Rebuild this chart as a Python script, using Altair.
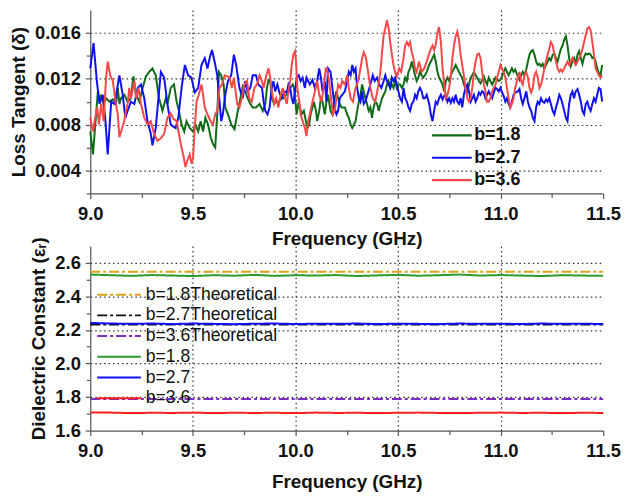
import altair as alt
import pandas as pd

# ---------------- Loss tangent (top panel): (frequency GHz, loss tangent) ----------------
lt_b18 = [(9.000,.0074),(9.013,.0054),(9.037,.0109),(9.045,.0100),(9.053,.0106),(9.065,.0098),(9.077,.0103),(9.094,.0100),(9.110,.0102),(9.126,.0099),(9.134,.0112),(9.142,.0098),(9.150,.0103),(9.166,.0106),(9.182,.0100),(9.198,.0103),(9.210,.0122),(9.223,.0106),(9.239,.0100),(9.255,.0112),(9.271,.0122),(9.287,.0126),(9.303,.0129),(9.319,.0123),(9.335,.0103),(9.352,.0092),(9.368,.0103),(9.376,.0098),(9.392,.0112),(9.408,.0115),(9.421,.0100),(9.432,.0092),(9.445,.0080),(9.458,.0074),(9.469,.0083),(9.485,.0077),(9.501,.0074),(9.513,.0080),(9.526,.0074),(9.538,.0083),(9.550,.0074),(9.561,.0086),(9.574,.0080),(9.587,.0069),(9.598,.0063),(9.609,.0060),(9.619,.0089),(9.627,.0126),(9.638,.0123),(9.650,.0115),(9.658,.0095),(9.671,.0089),(9.687,.0080),(9.703,.0076),(9.719,.0092),(9.732,.0103),(9.743,.0113),(9.755,.0109),(9.767,.0103),(9.780,.0098),(9.792,.0095),(9.808,.0095),(9.825,.0098),(9.841,.0092),(9.853,.0098),(9.861,.0112),(9.869,.0119),(9.877,.0118),(9.885,.0103),(9.896,.0098),(9.906,.0100),(9.917,.0099),(9.929,.0103),(9.941,.0103),(9.954,.0106),(9.966,.0108),(9.974,.0112),(9.987,.0115),(9.993,.0112),(10.000,.0100),(10.006,.0089),(10.014,.0098),(10.022,.0095),(10.030,.0089),(10.041,.0092),(10.051,.0083),(10.058,.0077),(10.067,.0080),(10.074,.0089),(10.083,.0095),(10.090,.0100),(10.100,.0092),(10.106,.0083),(10.116,.0092),(10.124,.0103),(10.132,.0100),(10.143,.0089),(10.151,.0100),(10.159,.0106),(10.171,.0092),(10.180,.0089),(10.191,.0103),(10.200,.0109),(10.212,.0100),(10.224,.0095),(10.241,.0095),(10.252,.0089),(10.260,.0086),(10.269,.0080),(10.277,.0077),(10.285,.0080),(10.293,.0083),(10.301,.0092),(10.309,.0100),(10.317,.0106),(10.325,.0115),(10.333,.0109),(10.341,.0103),(10.349,.0098),(10.357,.0092),(10.365,.0095),(10.373,.0086),(10.381,.0095),(10.389,.0100),(10.398,.0098),(10.406,.0092),(10.414,.0098),(10.422,.0103),(10.430,.0106),(10.438,.0109),(10.446,.0115),(10.454,.0118),(10.462,.0112),(10.470,.0115),(10.478,.0112),(10.486,.0118),(10.494,.0112),(10.502,.0115),(10.510,.0115),(10.519,.0112),(10.527,.0115),(10.535,.0121),(10.543,.0118),(10.551,.0126),(10.559,.0129),(10.567,.0135),(10.575,.0129),(10.583,.0123),(10.591,.0118),(10.599,.0121),(10.607,.0126),(10.615,.0123),(10.623,.0121),(10.631,.0123),(10.640,.0126),(10.652,.0132),(10.660,.0135),(10.668,.0138),(10.676,.0141),(10.684,.0135),(10.692,.0126),(10.700,.0121),(10.709,.0118),(10.717,.0115),(10.725,.0109),(10.733,.0118),(10.741,.0121),(10.749,.0118),(10.757,.0123),(10.765,.0126),(10.773,.0129),(10.781,.0132),(10.789,.0129),(10.797,.0126),(10.805,.0123),(10.813,.0121),(10.821,.0115),(10.829,.0112),(10.838,.0109),(10.846,.0115),(10.854,.0121),(10.862,.0123),(10.870,.0126),(10.878,.0123),(10.886,.0121),(10.894,.0118),(10.902,.0116),(10.910,.0119),(10.918,.0122),(10.926,.0118),(10.934,.0115),(10.942,.0121),(10.950,.0118),(10.959,.0115),(10.967,.0118),(10.975,.0121),(10.983,.0119),(10.991,.0118),(10.999,.0119),(11.007,.0122),(11.015,.0126),(11.023,.0129),(11.031,.0126),(11.039,.0123),(11.047,.0126),(11.055,.0129),(11.063,.0126),(11.071,.0128),(11.084,.0122),(11.092,.0119),(11.100,.0123),(11.108,.0126),(11.116,.0123),(11.125,.0128),(11.133,.0135),(11.141,.0141),(11.149,.0144),(11.157,.0145),(11.165,.0141),(11.173,.0135),(11.181,.0132),(11.189,.0133),(11.197,.0131),(11.205,.0133),(11.213,.0129),(11.221,.0132),(11.229,.0135),(11.237,.0138),(11.245,.0136),(11.254,.0141),(11.262,.0142),(11.270,.0138),(11.278,.0135),(11.286,.0141),(11.294,.0146),(11.302,.0149),(11.310,.0154),(11.318,.0157),(11.326,.0149),(11.334,.0138),(11.342,.0131),(11.350,.0135),(11.358,.0138),(11.366,.0133),(11.375,.0141),(11.383,.0144),(11.391,.0138),(11.399,.0133),(11.407,.0139),(11.415,.0142),(11.423,.0141),(11.431,.0142),(11.439,.0141),(11.447,.0138),(11.455,.0139),(11.463,.0135),(11.471,.0129),(11.479,.0125),(11.487,.0123),(11.495,.0132)]

lt_b27 = [(9.000,.0129),(9.016,.0151),(9.032,.0118),(9.045,.0098),(9.061,.0106),(9.074,.0083),(9.085,.0054),(9.102,.0100),(9.118,.0098),(9.142,.0123),(9.158,.0106),(9.171,.0086),(9.182,.0092),(9.198,.0100),(9.215,.0098),(9.231,.0112),(9.247,.0115),(9.263,.0103),(9.279,.0083),(9.295,.0072),(9.303,.0062),(9.319,.0077),(9.344,.0126),(9.360,.0121),(9.376,.0098),(9.392,.0080),(9.416,.0077),(9.429,.0086),(9.445,.0112),(9.461,.0132),(9.477,.0123),(9.493,.0121),(9.509,.0108),(9.526,.0112),(9.542,.0132),(9.558,.0138),(9.571,.0129),(9.582,.0138),(9.593,.0145),(9.606,.0135),(9.619,.0123),(9.630,.0100),(9.638,.0083),(9.646,.0089),(9.658,.0106),(9.671,.0118),(9.687,.0123),(9.700,.0141),(9.711,.0132),(9.727,.0112),(9.743,.0103),(9.755,.0118),(9.767,.0109),(9.780,.0112),(9.792,.0123),(9.808,.0123),(9.819,.0115),(9.837,.0112),(9.845,.0100),(9.853,.0092),(9.864,.0089),(9.874,.0095),(9.885,.0112),(9.893,.0118),(9.901,.0109),(9.912,.0115),(9.922,.0108),(9.933,.0103),(9.945,.0109),(9.958,.0108),(9.966,.0115),(9.974,.0112),(9.982,.0103),(9.990,.0098),(10.000,.0112),(10.006,.0121),(10.016,.0123),(10.025,.0118),(10.035,.0121),(10.046,.0112),(10.054,.0121),(10.062,.0118),(10.070,.0115),(10.083,.0119),(10.095,.0112),(10.106,.0118),(10.116,.0129),(10.124,.0121),(10.132,.0109),(10.143,.0118),(10.151,.0100),(10.159,.0129),(10.171,.0126),(10.180,.0112),(10.191,.0095),(10.200,.0089),(10.208,.0092),(10.216,.0103),(10.228,.0106),(10.241,.0109),(10.252,.0118),(10.260,.0126),(10.269,.0123),(10.277,.0132),(10.285,.0126),(10.293,.0129),(10.301,.0112),(10.309,.0103),(10.317,.0100),(10.325,.0109),(10.333,.0098),(10.341,.0100),(10.354,.0108),(10.365,.0115),(10.377,.0123),(10.386,.0118),(10.398,.0121),(10.409,.0115),(10.419,.0112),(10.430,.0118),(10.438,.0123),(10.446,.0118),(10.454,.0115),(10.462,.0112),(10.470,.0121),(10.478,.0118),(10.486,.0121),(10.494,.0115),(10.502,.0109),(10.510,.0103),(10.519,.0100),(10.527,.0112),(10.535,.0103),(10.543,.0100),(10.551,.0095),(10.559,.0092),(10.567,.0098),(10.575,.0100),(10.583,.0106),(10.591,.0103),(10.599,.0109),(10.607,.0112),(10.615,.0109),(10.623,.0103),(10.631,.0103),(10.640,.0106),(10.652,.0098),(10.660,.0089),(10.668,.0083),(10.676,.0092),(10.684,.0100),(10.692,.0098),(10.700,.0103),(10.709,.0106),(10.717,.0102),(10.725,.0105),(10.733,.0106),(10.741,.0100),(10.749,.0103),(10.757,.0099),(10.765,.0103),(10.773,.0100),(10.781,.0106),(10.789,.0100),(10.797,.0098),(10.805,.0103),(10.813,.0095),(10.821,.0106),(10.829,.0112),(10.838,.0115),(10.846,.0109),(10.854,.0100),(10.862,.0103),(10.870,.0106),(10.878,.0100),(10.886,.0103),(10.894,.0108),(10.902,.0106),(10.910,.0109),(10.918,.0108),(10.926,.0103),(10.934,.0106),(10.942,.0109),(10.950,.0106),(10.959,.0103),(10.967,.0108),(10.975,.0112),(10.983,.0111),(10.991,.0109),(10.999,.0112),(11.007,.0108),(11.015,.0105),(11.023,.0100),(11.031,.0103),(11.039,.0098),(11.047,.0095),(11.055,.0100),(11.063,.0106),(11.071,.0108),(11.084,.0109),(11.092,.0111),(11.100,.0103),(11.108,.0098),(11.116,.0103),(11.125,.0109),(11.133,.0100),(11.141,.0095),(11.149,.0092),(11.157,.0086),(11.165,.0083),(11.173,.0095),(11.181,.0100),(11.189,.0098),(11.197,.0103),(11.205,.0100),(11.213,.0099),(11.221,.0102),(11.229,.0100),(11.237,.0103),(11.245,.0098),(11.254,.0092),(11.262,.0089),(11.270,.0095),(11.278,.0100),(11.286,.0106),(11.294,.0103),(11.302,.0098),(11.310,.0092),(11.318,.0086),(11.326,.0083),(11.334,.0098),(11.342,.0106),(11.350,.0109),(11.358,.0103),(11.366,.0109),(11.375,.0111),(11.383,.0106),(11.391,.0100),(11.399,.0092),(11.407,.0089),(11.415,.0098),(11.423,.0100),(11.431,.0095),(11.439,.0092),(11.447,.0098),(11.455,.0103),(11.463,.0100),(11.471,.0106),(11.479,.0112),(11.487,.0111),(11.495,.0100)]

lt_b36 = [(9.000,.0086),(9.013,.0074),(9.024,.0086),(9.034,.0095),(9.042,.0080),(9.053,.0098),(9.065,.0083),(9.077,.0121),(9.085,.0135),(9.097,.0123),(9.110,.0118),(9.123,.0100),(9.134,.0089),(9.142,.0069),(9.155,.0077),(9.166,.0083),(9.174,.0092),(9.182,.0098),(9.190,.0112),(9.198,.0103),(9.215,.0118),(9.223,.0103),(9.235,.0112),(9.247,.0098),(9.263,.0086),(9.279,.0080),(9.295,.0083),(9.311,.0072),(9.327,.0066),(9.344,.0068),(9.360,.0072),(9.376,.0086),(9.392,.0090),(9.405,.0085),(9.421,.0083),(9.432,.0072),(9.445,.0060),(9.456,.0051),(9.464,.0043),(9.474,.0049),(9.485,.0054),(9.493,.0046),(9.501,.0051),(9.509,.0077),(9.518,.0100),(9.529,.0106),(9.542,.0115),(9.550,.0106),(9.558,.0095),(9.571,.0089),(9.587,.0083),(9.598,.0080),(9.609,.0089),(9.619,.0092),(9.630,.0112),(9.642,.0115),(9.655,.0123),(9.668,.0122),(9.679,.0121),(9.690,.0112),(9.700,.0121),(9.708,.0109),(9.716,.0098),(9.727,.0095),(9.738,.0103),(9.751,.0115),(9.764,.0118),(9.775,.0103),(9.787,.0100),(9.800,.0112),(9.813,.0115),(9.825,.0123),(9.837,.0118),(9.845,.0112),(9.858,.0123),(9.869,.0129),(9.877,.0121),(9.885,.0109),(9.896,.0098),(9.906,.0103),(9.917,.0095),(9.925,.0103),(9.938,.0112),(9.950,.0103),(9.958,.0098),(9.966,.0109),(9.974,.0118),(9.982,.0132),(9.990,.0141),(9.998,.0144),(10.003,.0135),(10.009,.0112),(10.019,.0100),(10.025,.0089),(10.035,.0083),(10.046,.0077),(10.054,.0070),(10.062,.0083),(10.070,.0089),(10.083,.0100),(10.095,.0109),(10.106,.0118),(10.116,.0106),(10.127,.0100),(10.135,.0109),(10.148,.0129),(10.154,.0129),(10.164,.0118),(10.175,.0100),(10.183,.0089),(10.191,.0092),(10.200,.0103),(10.208,.0115),(10.219,.0112),(10.228,.0118),(10.241,.0115),(10.252,.0123),(10.260,.0112),(10.269,.0103),(10.280,.0100),(10.293,.0112),(10.306,.0118),(10.317,.0129),(10.325,.0138),(10.333,.0143),(10.344,.0138),(10.354,.0126),(10.365,.0112),(10.377,.0103),(10.389,.0100),(10.402,.0112),(10.414,.0126),(10.422,.0143),(10.430,.0158),(10.438,.0164),(10.446,.0171),(10.454,.0164),(10.462,.0152),(10.470,.0141),(10.478,.0132),(10.486,.0126),(10.494,.0122),(10.506,.0129),(10.515,.0126),(10.527,.0138),(10.535,.0149),(10.543,.0152),(10.551,.0149),(10.559,.0152),(10.567,.0143),(10.575,.0138),(10.583,.0129),(10.591,.0126),(10.602,.0135),(10.615,.0126),(10.628,.0129),(10.640,.0135),(10.650,.0141),(10.660,.0146),(10.668,.0149),(10.676,.0145),(10.684,.0150),(10.692,.0160),(10.700,.0165),(10.709,.0152),(10.717,.0129),(10.725,.0115),(10.733,.0103),(10.741,.0106),(10.749,.0112),(10.757,.0121),(10.765,.0138),(10.773,.0149),(10.781,.0157),(10.789,.0161),(10.797,.0154),(10.805,.0141),(10.813,.0132),(10.821,.0123),(10.829,.0112),(10.838,.0103),(10.846,.0100),(10.854,.0103),(10.862,.0112),(10.870,.0126),(10.878,.0135),(10.886,.0141),(10.894,.0142),(10.902,.0138),(10.910,.0126),(10.918,.0115),(10.926,.0109),(10.934,.0100),(10.942,.0100),(10.950,.0103),(10.959,.0109),(10.967,.0112),(10.975,.0115),(10.983,.0121),(10.991,.0126),(10.999,.0132),(11.007,.0129),(11.015,.0126),(11.023,.0121),(11.031,.0112),(11.039,.0103),(11.047,.0095),(11.055,.0098),(11.063,.0103),(11.071,.0112),(11.084,.0121),(11.092,.0126),(11.100,.0118),(11.108,.0115),(11.116,.0123),(11.125,.0126),(11.133,.0121),(11.141,.0112),(11.149,.0108),(11.157,.0112),(11.165,.0123),(11.173,.0126),(11.181,.0121),(11.189,.0112),(11.197,.0115),(11.205,.0121),(11.213,.0129),(11.221,.0135),(11.229,.0141),(11.237,.0146),(11.245,.0152),(11.254,.0149),(11.262,.0141),(11.270,.0135),(11.278,.0129),(11.286,.0126),(11.294,.0128),(11.302,.0126),(11.310,.0129),(11.318,.0132),(11.326,.0135),(11.334,.0132),(11.342,.0135),(11.350,.0138),(11.358,.0135),(11.366,.0132),(11.375,.0135),(11.383,.0138),(11.391,.0141),(11.399,.0146),(11.407,.0152),(11.415,.0158),(11.423,.0164),(11.431,.0165),(11.439,.0162),(11.447,.0152),(11.455,.0141),(11.463,.0129),(11.471,.0126),(11.479,.0123),(11.487,.0121),(11.495,.0123)]

lt_names = ["b=1.8", "b=2.7", "b=3.6"]
lt_colors = ["#0E6B16", "#1010F0", "#F54848"]

# ---------------- Dielectric constant (bottom panel) ----------------
dc_freq = [9.0, 9.1, 9.2, 9.3, 9.4, 9.5, 9.6, 9.7, 9.8, 9.9, 10.0, 10.1, 10.2,
           10.3, 10.4, 10.5, 10.6, 10.7, 10.8, 10.9, 11.0, 11.1, 11.2, 11.3, 11.4, 11.5]
dc_b18 = [2.530, 2.526, 2.522, 2.527, 2.524, 2.521, 2.526, 2.523, 2.528, 2.522, 2.526, 2.524, 2.527,
          2.521, 2.525, 2.528, 2.523, 2.526, 2.530, 2.524, 2.527, 2.524, 2.521, 2.526, 2.524, 2.522]
dc_b27 = [2.242, 2.238, 2.236, 2.238, 2.235, 2.238, 2.236, 2.234, 2.237, 2.238, 2.235, 2.237, 2.236,
          2.238, 2.235, 2.237, 2.236, 2.235, 2.238, 2.236, 2.237, 2.235, 2.238, 2.236, 2.237, 2.235]
dc_b36 = [1.708, 1.707, 1.704, 1.706, 1.705, 1.707, 1.704, 1.706, 1.705, 1.706, 1.704, 1.707, 1.705,
          1.706, 1.704, 1.706, 1.707, 1.705, 1.704, 1.706, 1.707, 1.705, 1.706, 1.704, 1.706, 1.705]
theory_freq = [9.0, 11.5]
theory_values = [2.547, 2.232, 1.788]
theory_names = ["b=1.8Theoretical", "b=2.7Theoretical", "b=3.6Theoretical"]
meas_names = ["b=1.8", "b=2.7", "b=3.6"]
dc_names = theory_names + meas_names
dc_colors = ["#D9A21B", "#111111", "#7D2CC0", "#2A9A2A", "#1010F8", "#F81E1E"]
dc_dashes = [[10, 3, 3, 3], [10, 3, 3, 3], [10, 3, 3, 3], [1, 0], [1, 0], [1, 0]]

# ---------------- tables ----------------
lt_rows = []
for name, series in zip(lt_names, [lt_b18, lt_b27, lt_b36]):
    for f, v in series:
        lt_rows.append({"freq": f, "value": v, "series": name})
lt_df = pd.DataFrame(lt_rows)

th_rows = []
for name, v in zip(theory_names, theory_values):
    for f in theory_freq:
        th_rows.append({"freq": f, "value": v, "series": name})
th_df = pd.DataFrame(th_rows)

ms_rows = []
for name, series in zip(meas_names, [dc_b18, dc_b27, dc_b36]):
    for f, v in zip(dc_freq, series):
        ms_rows.append({"freq": f, "value": v, "series": name})
ms_df = pd.DataFrame(ms_rows)

FONT = "Liberation Sans"
GRID = dict(gridColor="#333333", gridDash=[1.5, 3], gridWidth=1.2)
COMMON = dict(labelFont=FONT, labelFontSize=18.5, labelFontWeight="bold", labelColor="#111111",
              titleFont=FONT, titleFontSize=19, titleFontWeight="bold", titleColor="#111111",
              domainColor="#555555", domainWidth=1.2, tickColor="#555555", tickWidth=1.2,
              labelOverlap=False, labelFlush=False, **GRID)

x_ticks = [9.0, 9.25, 9.5, 9.75, 10.0, 10.25, 10.5, 10.75, 11.0, 11.25, 11.5]
x_major = "round(datum.value*4) % 2 == 0"


def x_axis(title_pad):
    return alt.Axis(
        title="Frequency (GHz)", values=x_ticks,
        labelExpr=f"({x_major}) ? format(datum.value, '.1f') : ''",
        tickSize={"condition": {"test": x_major, "value": 5}, "value": 4},
        gridOpacity={"condition": {"test": f"({x_major}) && datum.value > 9.01 && datum.value < 11.49", "value": 1}, "value": 0},
        labelPadding=6, titlePadding=title_pad, **COMMON)


lt_ticks = [0.002, 0.004, 0.006, 0.008, 0.010, 0.012, 0.014, 0.016]
lt_major = "round(datum.value*1000) % 4 == 0"

top = alt.Chart(lt_df).mark_line(strokeWidth=2).encode(
    x=alt.X("freq:Q", scale=alt.Scale(domain=[9.0, 11.5], nice=False, zero=False), axis=x_axis(7)),
    y=alt.Y("value:Q", scale=alt.Scale(domain=[0.002, 0.018], nice=False, zero=False),
            axis=alt.Axis(title="Loss Tangent (δ)", values=lt_ticks,
                          labelExpr=f"({lt_major}) ? format(datum.value, '.3f') : ''",
                          tickSize={"condition": {"test": lt_major, "value": 5}, "value": 4},
                          gridOpacity={"condition": {"test": lt_major, "value": 1}, "value": 0},
                          labelPadding=5, titlePadding=6, **COMMON)),
    color=alt.Color("series:N", scale=alt.Scale(domain=lt_names, range=lt_colors),
                    legend=alt.Legend(title=None, orient="none", legendX=353, legendY=115,
                                      symbolType="M-2,0H2", symbolSize=400, symbolStrokeWidth=2.2,
                                      labelOffset=11, rowPadding=1.5, padding=0,
                                      labelFont=FONT, labelFontSize=18, labelFontWeight="bold",
                                      labelColor="#111111")),
).properties(width=517, height=185)

dc_ticks = [1.6, 1.7, 1.8, 1.9, 2.0, 2.1, 2.2, 2.3, 2.4, 2.5, 2.6]
dc_major = "round(datum.value*10) % 2 == 0"

dc_legend = alt.Legend(title=None, orient="none", legendX=18, legendY=38,
                       symbolType="M-2.2,0H2.2", symbolSize=400, symbolStrokeWidth=2,
                       labelOffset=16, rowPadding=0.9, padding=0,
                       labelFont=FONT, labelFontSize=17.7, labelFontWeight="normal",
                       labelColor="#111111")

dc_x = alt.X("freq:Q", scale=alt.Scale(domain=[9.0, 11.5], nice=False, zero=False), axis=x_axis(13))
dc_y = alt.Y("value:Q", scale=alt.Scale(domain=[1.6, 2.7], nice=False, zero=False),
             axis=alt.Axis(title="Dielectric Constant (εᵣ)", values=dc_ticks,
                           labelExpr=f"({dc_major}) ? format(datum.value, '.1f') : ''",
                           tickSize={"condition": {"test": dc_major, "value": 5}, "value": 4},
                           gridOpacity={"condition": {"test": f"({dc_major}) && datum.value > 1.65", "value": 1}, "value": 0},
                           labelPadding=5, titlePadding=6, **COMMON))
dc_color = alt.Color("series:N", scale=alt.Scale(domain=dc_names, range=dc_colors), legend=dc_legend)
dc_dash = alt.StrokeDash("series:N", scale=alt.Scale(domain=dc_names, range=dc_dashes), legend=dc_legend)

theory = alt.Chart(th_df).mark_line(strokeWidth=2).encode(x=dc_x, y=dc_y, color=dc_color, strokeDash=dc_dash)
measured = alt.Chart(ms_df).mark_line(strokeWidth=2).encode(x=dc_x, y=dc_y, color=dc_color, strokeDash=dc_dash)
bottom = alt.layer(theory, measured).properties(width=517, height=186)

chart = alt.vconcat(top, bottom, spacing=53, bounds="flush").resolve_scale(
    color="independent", strokeDash="independent"
).resolve_legend(color="independent", strokeDash="independent").properties(
    padding={"left": 9, "top": 8, "right": 5, "bottom": 5},
    background="white",
).configure_view(stroke=None)

chart.save("out.html", embed_options={"renderer": "svg", "actions": False})
